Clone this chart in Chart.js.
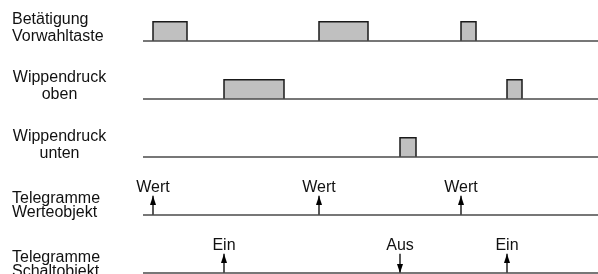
<!DOCTYPE html>
<html>
<head>
<meta charset="utf-8">
<script src="https://cdn.jsdelivr.net/npm/chart.js@4"></script>
<style>
  body { margin: 0; background: #fff; }
  canvas { display: block; }
</style>
</head>
<body>
<canvas id="timing" width="598" height="274"></canvas>
<script>
// Zeilen von oben nach unten
const rowLabels = [
  ["Betätigung", "Vorwahltaste"],
  ["Wippendruck", "oben"],
  ["Wippendruck", "unten"],
  ["Telegramme", "Werteobjekt"],
  ["Telegramme", "Schaltobjekt"],
];

// Impulse [Beginn, Ende] (Zeiteinheiten)
const pulsesVorwahl = [[10, 44], [176, 225], [318, 333]];
const pulsesOben = [[81, 141], [364, 379]];
const pulsesUnten = [[257, 273]];

// Telegramme
const wertTimes = [10, 176, 318];
const wertTexts = ["Wert", "Wert", "Wert"];
const schaltTimes = [81, 257, 364];
const schaltTexts = ["Ein", "Aus", "Ein"];
const schaltDir = ["up", "down", "up"];

const timeMax = 455;
const pulseHigh = 0.33;

// Pfeilspitze als Punktstil
const makeHead = () => {
  const c = document.createElement("canvas");
  c.width = 8;
  c.height = 18;
  const g = c.getContext("2d");
  g.fillStyle = "#000";
  g.beginPath();
  g.moveTo(4, 9);
  g.lineTo(7, 18);
  g.lineTo(1, 18);
  g.closePath();
  g.fill();
  return c;
};
const head = makeHead();

const datasets = [];

// Grundlinien
rowLabels.forEach((_, row) => {
  datasets.push({
    data: [{ x: 0, y: row }, { x: timeMax, y: row }],
    borderColor: "#4a4a4a",
    borderWidth: 1.6,
    pointRadius: 0,
    fill: false,
    clip: false,
  });
});

// Impulse
const addPulses = (pulses, row) => {
  pulses.forEach(([s, e]) => {
    datasets.push({
      data: [
        { x: s, y: row },
        { x: s, y: row - pulseHigh },
        { x: e, y: row - pulseHigh },
        { x: e, y: row },
      ],
      borderColor: "#1a1a1a",
      borderWidth: 1.5,
      backgroundColor: "#c0c0c0",
      pointRadius: 0,
      fill: { value: row },
      clip: false,
    });
  });
};
addPulses(pulsesVorwahl, 0);
addPulses(pulsesOben, 1);
addPulses(pulsesUnten, 2);

// Pfeile
const events = [];
const addArrow = (t, row, dir, text) => {
  const top = row - pulseHigh;
  const pts = dir === "up"
    ? [{ x: t, y: row }, { x: t, y: top }]
    : [{ x: t, y: top }, { x: t, y: row }];
  datasets.push({
    data: pts,
    borderColor: "#000",
    borderWidth: 1.3,
    pointRadius: [0, 5],
    pointStyle: head,
    rotation: dir === "up" ? 0 : 180,
    fill: false,
    clip: false,
  });
  events.push({ t, y: top, text });
};
wertTimes.forEach((t, i) => addArrow(t, 3, "up", wertTexts[i]));
schaltTimes.forEach((t, i) => addArrow(t, 4, schaltDir[i], schaltTexts[i]));

const font = "16px 'Liberation Sans', Arial, sans-serif";

const textPlugin = {
  id: "texte",
  afterDatasetsDraw(chart) {
    const { ctx } = chart;
    const xs = chart.scales.x;
    const ys = chart.scales.y;
    ctx.save();
    ctx.font = font;
    ctx.fillStyle = "#111";
    ctx.textBaseline = "alphabetic";
    // Zeilenbeschriftung
    const align = ["left", "center", "center", "left", "left"];
    const offs = [[-17.5, -0.5], [-17, -0.5], [-16, 0.5], [-12.5, 1.5], [-11.5, 2.5]];
    rowLabels.forEach((lines, row) => {
      const base = ys.getPixelForValue(row);
      ctx.textAlign = align[row];
      const x = align[row] === "left" ? 12 : 59.5;
      lines.forEach((txt, k) => ctx.fillText(txt, x, base + offs[row][k]));
    });
    // Telegrammtexte
    ctx.textAlign = "center";
    events.forEach((ev) => {
      ctx.fillText(ev.text, xs.getPixelForValue(ev.t), ys.getPixelForValue(ev.y) - 4);
    });
    ctx.restore();
  },
};

new Chart(document.getElementById("timing"), {
  type: "line",
  data: { datasets },
  options: {
    responsive: false,
    animation: false,
    devicePixelRatio: 1,
    layout: { autoPadding: false, padding: { left: 143, right: 0, top: 0, bottom: 0 } },
    scales: {
      x: { type: "linear", min: 0, max: timeMax, display: false },
      y: { type: "linear", min: -41 / 58, max: 4 + 1 / 58, reverse: true, display: false },
    },
    plugins: {
      legend: { display: false },
      tooltip: { enabled: false },
    },
  },
  plugins: [textPlugin],
});
</script>
</body>
</html>
